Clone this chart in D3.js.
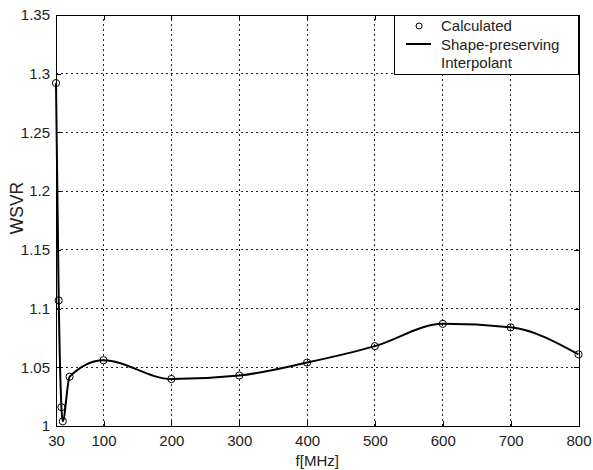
<!DOCTYPE html>
<html>
<head>
<meta charset="utf-8">
<script src="https://cdn.jsdelivr.net/npm/d3@7"></script>
<style>
  html, body { margin: 0; padding: 0; background: #fff; }
  svg { display: block; font-family: "Liberation Sans", Arial, sans-serif; }
</style>
</head>
<body>
<svg id="chart" width="593" height="470"></svg>
<script>
// Frequency points (MHz) and the calculated WSVR at each one
const freqMHz = [30, 34, 38, 40, 50, 100, 200, 300, 400, 500, 600, 700, 800];
const wsvr = [1.292, 1.107, 1.016, 1.004, 1.042, 1.056, 1.040, 1.043, 1.054, 1.068, 1.087, 1.084, 1.061];

const xTicks = [30, 100, 200, 300, 400, 500, 600, 700, 800];
const yTicks = [1, 1.05, 1.1, 1.15, 1.2, 1.25, 1.3, 1.35];
const legendLabels = ["Calculated", "Shape-preserving", "Interpolant"];

const W = 593, H = 470;
const m = { left: 56, right: 14.5, top: 15, bottom: 44 };
const x0 = m.left, x1 = W - m.right, y0 = H - m.bottom, y1 = m.top;

const svg = d3.select("#chart");
svg.append("rect").attr("width", W).attr("height", H).attr("fill", "#fff");

const x = d3.scaleLinear().domain([30, 800]).range([x0, x1]);
const y = d3.scaleLinear().domain([1, 1.35]).range([y0, y1]);

const gridColor = "#222";
const textColor = "#222";
const fontSize = 15;

// dotted grid
const grid = svg.append("g");
grid.selectAll("line.gx").data(xTicks.slice(1, -1)).join("line")
  .attr("x1", d => x(d)).attr("x2", d => x(d))
  .attr("y1", y0).attr("y2", y1)
  .attr("stroke", gridColor).attr("stroke-width", 1)
  .attr("stroke-dasharray", "2,3")
  .attr("shape-rendering", "crispEdges");
grid.selectAll("line.gy").data(yTicks.slice(1, -1)).join("line")
  .attr("x1", x0).attr("x2", x1)
  .attr("y1", d => y(d)).attr("y2", d => y(d))
  .attr("stroke", gridColor).attr("stroke-width", 1)
  .attr("stroke-dasharray", "2,3")
  .attr("shape-rendering", "crispEdges");

// axes with inward ticks on all four sides
const tickLen = 5;
const fmtY = d => String(+d.toFixed(2));
const axB = svg.append("g").attr("transform", `translate(0,${y0})`)
  .call(d3.axisBottom(x).tickValues(xTicks).tickSize(-tickLen).tickPadding(9).tickFormat(d3.format("d")));
const axT = svg.append("g").attr("transform", `translate(0,${y1})`)
  .call(d3.axisTop(x).tickValues(xTicks).tickSize(-tickLen).tickFormat(""));
const axL = svg.append("g").attr("transform", `translate(${x0},0)`)
  .call(d3.axisLeft(y).tickValues(yTicks).tickSize(-tickLen).tickPadding(6).tickFormat(fmtY));
const axR = svg.append("g").attr("transform", `translate(${x1},0)`)
  .call(d3.axisRight(y).tickValues(yTicks).tickSize(-tickLen).tickFormat(""));

[axB, axT, axL, axR].forEach(g => {
  g.select(".domain").attr("stroke", "#000").attr("stroke-width", 1).attr("shape-rendering", "crispEdges");
  g.selectAll(".tick line").attr("stroke", "#000").attr("shape-rendering", "crispEdges");
  g.selectAll(".tick text").attr("fill", textColor).attr("font-size", fontSize)
    .attr("font-family", "'Liberation Sans', Arial, sans-serif");
});

// interpolated curve (monotone cubic, shape-preserving)
const pts = freqMHz.map((f, i) => [f, wsvr[i]]);
svg.append("path")
  .datum(pts)
  .attr("fill", "none")
  .attr("stroke", "#000")
  .attr("stroke-width", 2)
  .attr("d", d3.line().x(d => x(d[0])).y(d => y(d[1])).curve(d3.curveMonotoneX));

// calculated points
svg.append("g").selectAll("circle").data(pts).join("circle")
  .attr("cx", d => x(d[0])).attr("cy", d => y(d[1]))
  .attr("r", 3.6)
  .attr("fill", "none").attr("stroke", "#000").attr("stroke-width", 1);

// axis titles
svg.append("text")
  .attr("x", (x0 + x1) / 2).attr("y", 466)
  .attr("text-anchor", "middle")
  .attr("font-size", fontSize).attr("fill", textColor)
  .text("f[MHz]");
svg.append("text")
  .attr("transform", "translate(23,208) rotate(-90)")
  .attr("text-anchor", "middle")
  .attr("font-size", 17.5).attr("fill", textColor)
  .text("WSVR");

// legend
const lg = { left: 394, top: y1, right: x1, bottom: 74 };
const legend = svg.append("g");
legend.append("rect")
  .attr("x", lg.left).attr("y", lg.top)
  .attr("width", lg.right - lg.left).attr("height", lg.bottom - lg.top)
  .attr("fill", "#fff").attr("stroke", "#000").attr("stroke-width", 1)
  .attr("shape-rendering", "crispEdges");
legend.append("circle")
  .attr("cx", 419).attr("cy", 26).attr("r", 3)
  .attr("fill", "none").attr("stroke", "#000").attr("stroke-width", 1);
legend.append("line")
  .attr("x1", 406).attr("x2", 431).attr("y1", 44).attr("y2", 44)
  .attr("stroke", "#000").attr("stroke-width", 2);
legend.selectAll("text").data(legendLabels).join("text")
  .attr("x", 441)
  .attr("y", (d, i) => 26 + i * 18.5)
  .attr("dy", "0.35em")
  .attr("font-size", fontSize).attr("fill", textColor)
  .text(d => d);
</script>
</body>
</html>
